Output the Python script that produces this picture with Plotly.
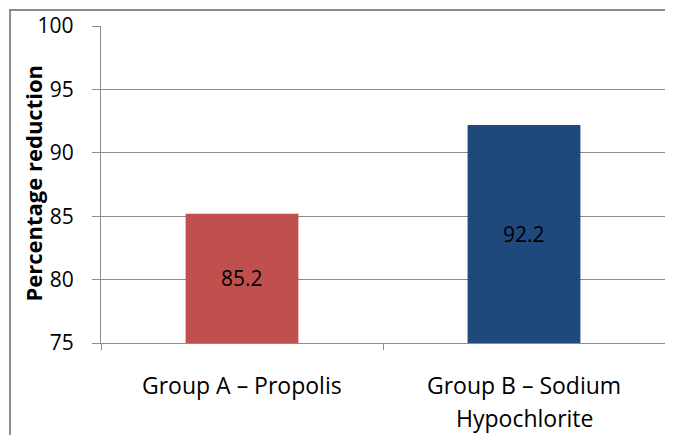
import plotly.graph_objects as go

categories = ["Group A – Propolis", "Group B – Sodium<br>Hypochlorite"]
values = [85.2, 92.2]
bar_colors = ["#C0504D", "#1F497D"]
y_ticks = [75, 80, 85, 90, 95, 100]
y_min, y_max = 75, 100

font_family = "Open Sans, Liberation Sans, sans-serif"
gray = "#8C8C8C"

fig = go.Figure(go.Bar(
    x=categories,
    y=values,
    marker=dict(color=bar_colors, line=dict(width=0)),
    hoverinfo="x+y",
))

# data labels centred in the visible part of each bar
for c, v in zip(categories, values):
    fig.add_annotation(
        x=c, y=(y_min + v) / 2, xref="x", yref="y",
        text=f"{v:.1f}", showarrow=False,
        font=dict(color="black", size=21, family=font_family),
    )

# category labels (one annotation per line for Excel-like line spacing)
line_y = [-0.134, -0.236]
for c in categories:
    for i, part in enumerate(c.split("<br>")):
        fig.add_annotation(
            x=c, y=line_y[i], xref="x", yref="paper",
            text=part, showarrow=False, xanchor="center", yanchor="middle",
            font=dict(color="black", size=23, family=font_family),
        )

# y axis title
fig.add_annotation(
    x=-0.1206, y=0.506, xref="paper", yref="paper",
    xanchor="center", yanchor="middle",
    text="<b>Percentage reduction</b>", textangle=-90, showarrow=False,
    font=dict(size=22, family=font_family, color="black"),
)

fig.update_layout(
    width=657, height=427,
    margin=dict(l=93, r=0, t=18, b=92),
    paper_bgcolor="white",
    plot_bgcolor="white",
    bargap=0.6,
    showlegend=False,
    font=dict(family=font_family, size=20, color="black"),
)

fig.update_yaxes(
    range=[y_min, y_max],
    tickvals=y_ticks,
    showgrid=True, gridcolor=gray, gridwidth=1.3,
    showline=True, linecolor=gray, linewidth=1.3,
    ticks="outside", ticklen=8, tickcolor=gray, tickwidth=1.3,
    tickfont=dict(size=21),
    ticklabelstandoff=14,
    zeroline=False,
)

fig.update_xaxes(
    showline=True, linecolor=gray, linewidth=1.3,
    ticks="outside", ticklen=6, tickcolor=gray, tickwidth=1.3,
    tickson="boundaries",
    showticklabels=False,
    showgrid=False,
)

# outer chart frame: only left and top edges are visible in the reference
fig.add_shape(
    type="path", xref="paper", yref="paper",
    path="M -0.1613,-0.6 L -0.1613,1.0505 L 1.1,1.0505",
    line=dict(color=gray, width=2),
    layer="below",
)

fig.write_html("out.html")
